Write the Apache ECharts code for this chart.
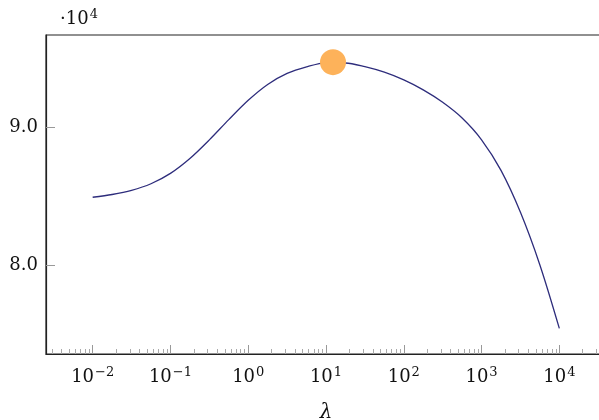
<!DOCTYPE html>
<html>
<head>
<meta charset="utf-8">
<script src="https://cdn.jsdelivr.net/npm/echarts@6/dist/echarts.min.js"></script>
<style>
  html, body { margin: 0; padding: 0; background: #fff; }
  #chart { width: 599px; height: 420px; }
</style>
</head>
<body>
<div id="chart"></div>
<script>
// values (x is lambda, y in raw units)
const lambdas = [0.01, 0.01778, 0.03162, 0.05623, 0.1, 0.1778, 0.3162, 0.5623, 1, 1.778, 3.162, 5.623, 10, 17.78, 31.62, 56.23, 100, 177.8, 316.2, 562.3, 1000, 1778, 3162, 5623, 10000]
const values = [84950, 85150, 85450, 85930, 86680, 87760, 89110, 90580, 91980, 93130, 93930, 94410, 94700, 94690, 94420, 94020, 93460, 92740, 91840, 90700, 89120, 86900, 83860, 80040, 75440]
const best = [12.3, 94750]

const xMajorTicks = [1e-2, 1e-1, 1, 10, 100, 1000, 10000]
const yMajorTicks = [80000, 90000]

// minor ticks 2..9 in every decade
const xMinorTicks = []
for (let e = -3; e <= 4; e++) {
  for (let m = 2; m <= 9; m++) xMinorTicks.push(m * Math.pow(10, e))
}

const xMin = Math.pow(10, -2.6)
const xMax = Math.pow(10, 4.6)
const yMin = 73580
const yMax = 96720

const font = 'DejaVu Serif'
const sup = (v) => {
  const e = Math.round(Math.log10(v))
  return '{b|10}{s|' + String(e).replace('-', '\u2212') + '}'
}

const chart = echarts.init(document.getElementById('chart'))

chart.setOption({
  animation: false,
  grid: {
    left: 46,
    width: 560,
    top: 35,
    bottom: 66,
    outerBoundsMode: 'none',
    containLabel: false,
    show: true,
    borderColor: '#222',
    borderWidth: 1.2
  },
  xAxis: [
    {
      type: 'log',
      min: xMin,
      max: xMax,
      name: 'λ',
      nameLocation: 'middle',
      nameGap: 49,
      nameTextStyle: { fontFamily: font, fontStyle: 'italic', fontSize: 20, color: '#111' },
      axisLine: { show: true, lineStyle: { color: '#222', width: 1.2 } },
      splitLine: { show: false },
      axisTick: {
        show: true,
        inside: true,
        length: 9,
        customValues: xMajorTicks,
        lineStyle: { color: '#999', width: 1 }
      },
      axisLabel: {
        customValues: xMajorTicks,
        margin: 12,
        formatter: sup,
        rich: {
          b: { fontFamily: font, fontSize: 18, color: '#111' },
          s: { fontFamily: font, fontSize: 13, color: '#111', padding: [0, 0, 9, 1] }
        }
      }
    },
    {
      type: 'log',
      min: xMin,
      max: xMax,
      position: 'bottom',
      axisLine: { show: false },
      splitLine: { show: false },
      axisLabel: { show: false },
      axisTick: {
        show: true,
        inside: true,
        length: 5,
        customValues: xMinorTicks,
        lineStyle: { color: '#aaa', width: 1 }
      }
    }
  ],
  yAxis: {
    type: 'value',
    min: yMin,
    max: yMax,
    name: '{p|}{d|·10}{s|4}',
    nameLocation: 'end',
    nameGap: 5,
    nameTextStyle: {
      align: 'left',
      rich: {
        p: { width: 14 },
        d: { fontFamily: font, fontSize: 18, color: '#111' },
        s: { fontFamily: font, fontSize: 13, color: '#111', padding: [0, 0, 9, 1] }
      }
    },
    axisLine: { show: true, lineStyle: { color: '#222', width: 1.2 } },
    splitLine: { show: false },
    axisTick: {
      show: true,
      inside: true,
      length: 9,
      customValues: yMajorTicks,
      lineStyle: { color: '#999', width: 1 }
    },
    axisLabel: {
      customValues: yMajorTicks,
      margin: 8,
      fontFamily: font,
      fontSize: 18,
      color: '#111',
      formatter: (v) => (v / 10000).toFixed(1)
    }
  },
  series: [
    {
      type: 'line',
      data: lambdas.map((x, i) => [x, values[i]]),
      smooth: 0.3,
      showSymbol: false,
      lineStyle: { color: '#2e2d7c', width: 1.3 },
      z: 2
    },
    {
      type: 'scatter',
      data: [best],
      symbolSize: 26,
      itemStyle: { color: '#fdb25a', opacity: 1 },
      z: 3
    }
  ]
})
</script>
</body>
</html>
